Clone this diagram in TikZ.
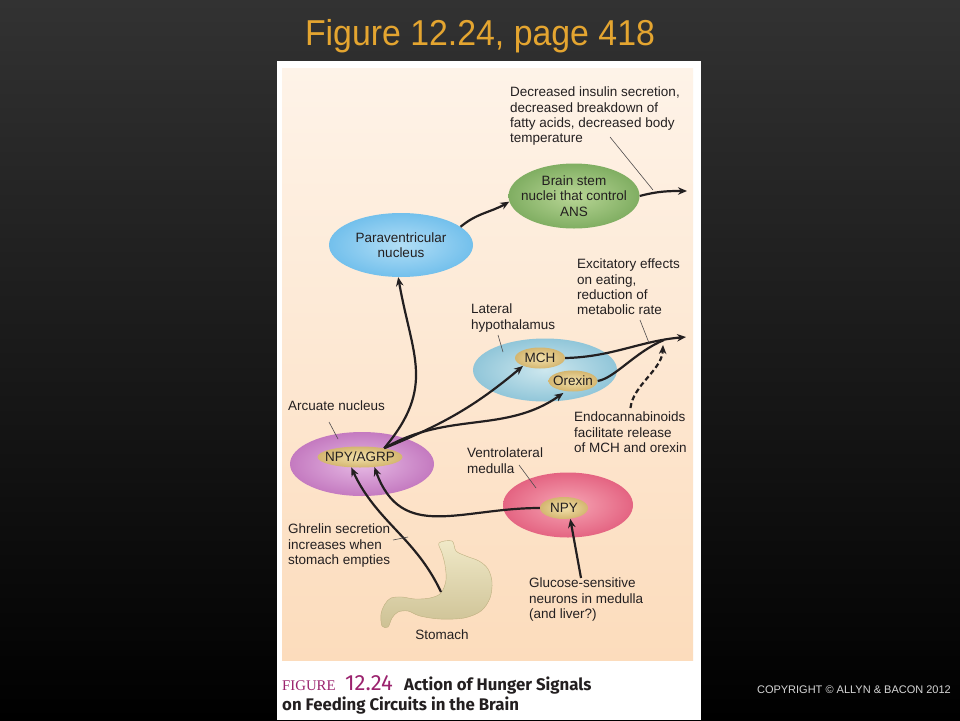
\documentclass[tikz,border=0pt]{standalone}
\usepackage{fontspec}
\setmainfont{Liberation Sans}
\newfontfamily\titlefont[FakeStretch=0.94]{Liberation Sans}
\newfontfamily\serifcap{Liberation Serif}
\newfontfamily\capfont{Fira Sans}
\usetikzlibrary{shapes.geometric,arrows.meta}

\definecolor{bgtop}{RGB}{50,50,50}
\definecolor{titlegold}{RGB}{228,165,48}
\definecolor{peachtop}{RGB}{254,243,232}
\definecolor{peachbot}{RGB}{252,220,188}
\definecolor{ink}{RGB}{35,31,32}
\definecolor{capmag}{RGB}{155,35,110}
\definecolor{copygray}{RGB}{215,215,215}
\definecolor{pvin}{RGB}{178,222,246}
\definecolor{pvout}{RGB}{115,192,236}
\definecolor{bsin}{RGB}{185,214,150}
\definecolor{bsout}{RGB}{128,174,98}
\definecolor{lhin}{RGB}{205,231,238}
\definecolor{lhout}{RGB}{145,198,217}
\definecolor{arcin}{RGB}{230,185,228}
\definecolor{arcout}{RGB}{196,122,192}
\definecolor{vlin}{RGB}{246,165,180}
\definecolor{vlout}{RGB}{228,100,130}
\definecolor{tanin}{RGB}{242,224,170}
\definecolor{tanout}{RGB}{212,182,112}
\definecolor{gutlight}{RGB}{240,233,200}
\definecolor{gutdark}{RGB}{205,193,148}
\definecolor{gutedge}{RGB}{190,176,128}

\newcommand\figfont{\fontsize{13.5}{15.3}\selectfont}

\begin{document}
\begin{tikzpicture}[x=1pt,y=1pt,
  region/.style={ellipse, inner xsep=-12pt, inner ysep=0pt, align=center, font=\figfont, text=ink},
  chem/.style={region, minimum height=21pt},
  note/.style={anchor=north west, inner sep=0pt, align=left, font=\figfont, text=ink},
  signal/.style={-{Stealth[length=9pt,width=7.5pt]}, line width=2.2pt, draw=ink},
  pointer/.style={line width=0.6pt, draw=ink!80}]
\useasboundingbox (0,0) rectangle (960,-720);
% Slide and figure panel
\shade[top color=bgtop, bottom color=black] (0,0) rectangle (960,-720);
\fill[white] (277,-61) rectangle (701,-720);
\shade[top color=peachtop, bottom color=peachbot] (282,-68) rectangle (693,-660);
\node[font=\titlefont\fontsize{36}{40}\selectfont, text=titlegold, anchor=base] at (480,-45) (title) {Figure 12.24, page 418};

% Define the nodes
\node[region, minimum width=144pt, minimum height=64pt, inner color=pvin, outer color=pvout] at (401,-245) (pv) {Paraventricular\\nucleus};
\node[region, minimum width=131pt, minimum height=65pt, inner color=bsin, outer color=bsout] at (574,-196) (bs) {Brain stem\\nuclei that control\\ANS};
\node[region, minimum width=144pt, minimum height=63pt, inner color=lhin, outer color=lhout] at (545,-370) (lh) {};
\node[region, minimum width=144pt, minimum height=64pt, inner color=arcin, outer color=arcout] at (362,-464) (arc) {};
\node[region, minimum width=130pt, minimum height=65pt, inner color=vlin, outer color=vlout] at (568,-505) (vl) {};
\node[chem, minimum width=50pt, inner color=tanin, outer color=tanout] at (540,-358) (mch) {MCH};
\node[chem, minimum width=49pt, inner color=tanin, outer color=tanout] at (573,-381) (orx) {Orexin};
\node[chem, minimum width=85pt, inner color=tanin, outer color=tanout] at (360,-457) (agrp) {NPY/AGRP};
\node[chem, minimum width=48pt, minimum height=22pt, inner color=tanin, outer color=tanout] at (564,-508) (npy) {NPY};

\node[note] at (510,-87) (dec) {Decreased insulin secretion,\\decreased breakdown of\\fatty acids, decreased body\\temperature};
\node[note] at (577,-259) (exc) {Excitatory effects\\on eating,\\reduction of\\metabolic rate};
\node[note] at (471,-304) (lat) {Lateral\\hypothalamus};
\node[note] at (574,-412) (ecb) {Endocannabinoids\\facilitate release\\of MCH and orexin};
\node[note] at (288,-401) (arclab) {Arcuate nucleus};
\node[note] at (467,-448) (ven) {Ventrolateral\\medulla};
\node[note] at (288,-524) (ghr) {Ghrelin secretion\\increases when\\stomach empties};
\node[note] at (529,-578) (glc) {Glucose-sensitive\\neurons in medulla\\(and liver?)};
\node[font=\figfont, text=ink, anchor=base] at (442,-639) (stomach) {Stomach};

% Stomach
\shade[top color=gutlight, bottom color=gutdark, draw=gutedge, line width=0.4pt]
  plot[smooth cycle, tension=0.55] coordinates {(439,-543) (452,-541) (456,-551) (466,-556) (479,-561) (488,-569) (492,-582) (490,-598) (481,-611) (464,-618) (440,-619) (420,-616) (408,-611) (398,-612) (392,-618) (388,-627) (382,-626) (381,-614) (385,-604) (391,-598) (402,-597) (415,-599) (430,-598) (441,-593) (446,-580) (445,-565) (442,-553)};

% Free ends
\coordinate (ans) at (687,-191);
\coordinate (eat) at (686,-337);
\coordinate (merge) at (664,-340);
\coordinate (ecbtip) at (663,-345);
\coordinate (gut) at (441,-592);
\coordinate (glu) at (581,-578);
\coordinate (decA) at (610,-137);
\coordinate (decB) at (653,-190);
\coordinate (excA) at (640,-320);
\coordinate (excB) at (649,-343);
\coordinate (latA) at (498,-335);
\coordinate (latB) at (503,-352);
\coordinate (arcA) at (329,-422);
\coordinate (arcB) at (338,-439);
\coordinate (venA) at (519,-465);
\coordinate (venB) at (536,-488);
\coordinate (ghrA) at (393,-540);
\coordinate (ghrB) at (408,-537);

% Draw the paths
\draw[signal] (pv.17) to[out=40,in=210] (bs.185);
\draw[signal] (bs.east) to[out=15,in=180] (ans);
\draw[signal] (agrp.20) to[out=50,in=-80,looseness=1.2] (pv.265);
\draw[signal] (agrp.20) to[out=22,in=220] (mch.205);
\draw[signal, shorten >=3pt] (agrp.20) to[out=30,in=215] (orx.235);
\draw[signal] (mch.east) .. controls (612,-357) and (640,-341) .. (eat);
\draw[line width=2.2pt, ink] (orx.east) .. controls (615,-378) and (635,-352) .. (merge);
\draw[signal, dash pattern=on 5pt off 3pt] ([yshift=4pt]ecb.north) .. controls (633,-385) and (662,-370) .. (ecbtip);
\draw[signal] (npy.west) to[out=180,in=-70,looseness=1.2] (agrp.-35);
\draw[signal] (gut) to[out=115,in=-65] (agrp.-130);
\draw[signal] (glu) -- (npy.-60);

\draw[pointer] (decA) -- (decB);
\draw[pointer] (excA) -- (excB);
\draw[pointer] (latA) -- (latB);
\draw[pointer] (arcA) -- (arcB);
\draw[pointer] (venA) -- (venB);
\draw[pointer] (ghrA) -- (ghrB);

% Caption and credit
\node[anchor=base west, inner sep=0pt, text=capmag, font=\serifcap\fontsize{14.8}{16}\selectfont] at (282,-690) (figword) {FIGURE};
\node[anchor=base west, inner sep=0pt, text=capmag, font=\capfont\fontsize{22}{24}\selectfont] at (345,-690) (fignum) {12.24};
\node[anchor=base west, inner sep=0pt, text=ink, font=\capfont\bfseries\fontsize{16.8}{18}\selectfont] at (404,-690) (capA) {Action of Hunger Signals};
\node[anchor=base west, inner sep=0pt, text=ink, font=\capfont\bfseries\fontsize{16.8}{18}\selectfont] at (282,-710) (capB) {on Feeding Circuits in the Brain};
\node[anchor=base east, inner sep=0pt, text=copygray, font=\fontsize{11}{13}\selectfont] at (951,-693) (credit) {COPYRIGHT © ALLYN \& BACON 2012};
\end{tikzpicture}
\end{document}
